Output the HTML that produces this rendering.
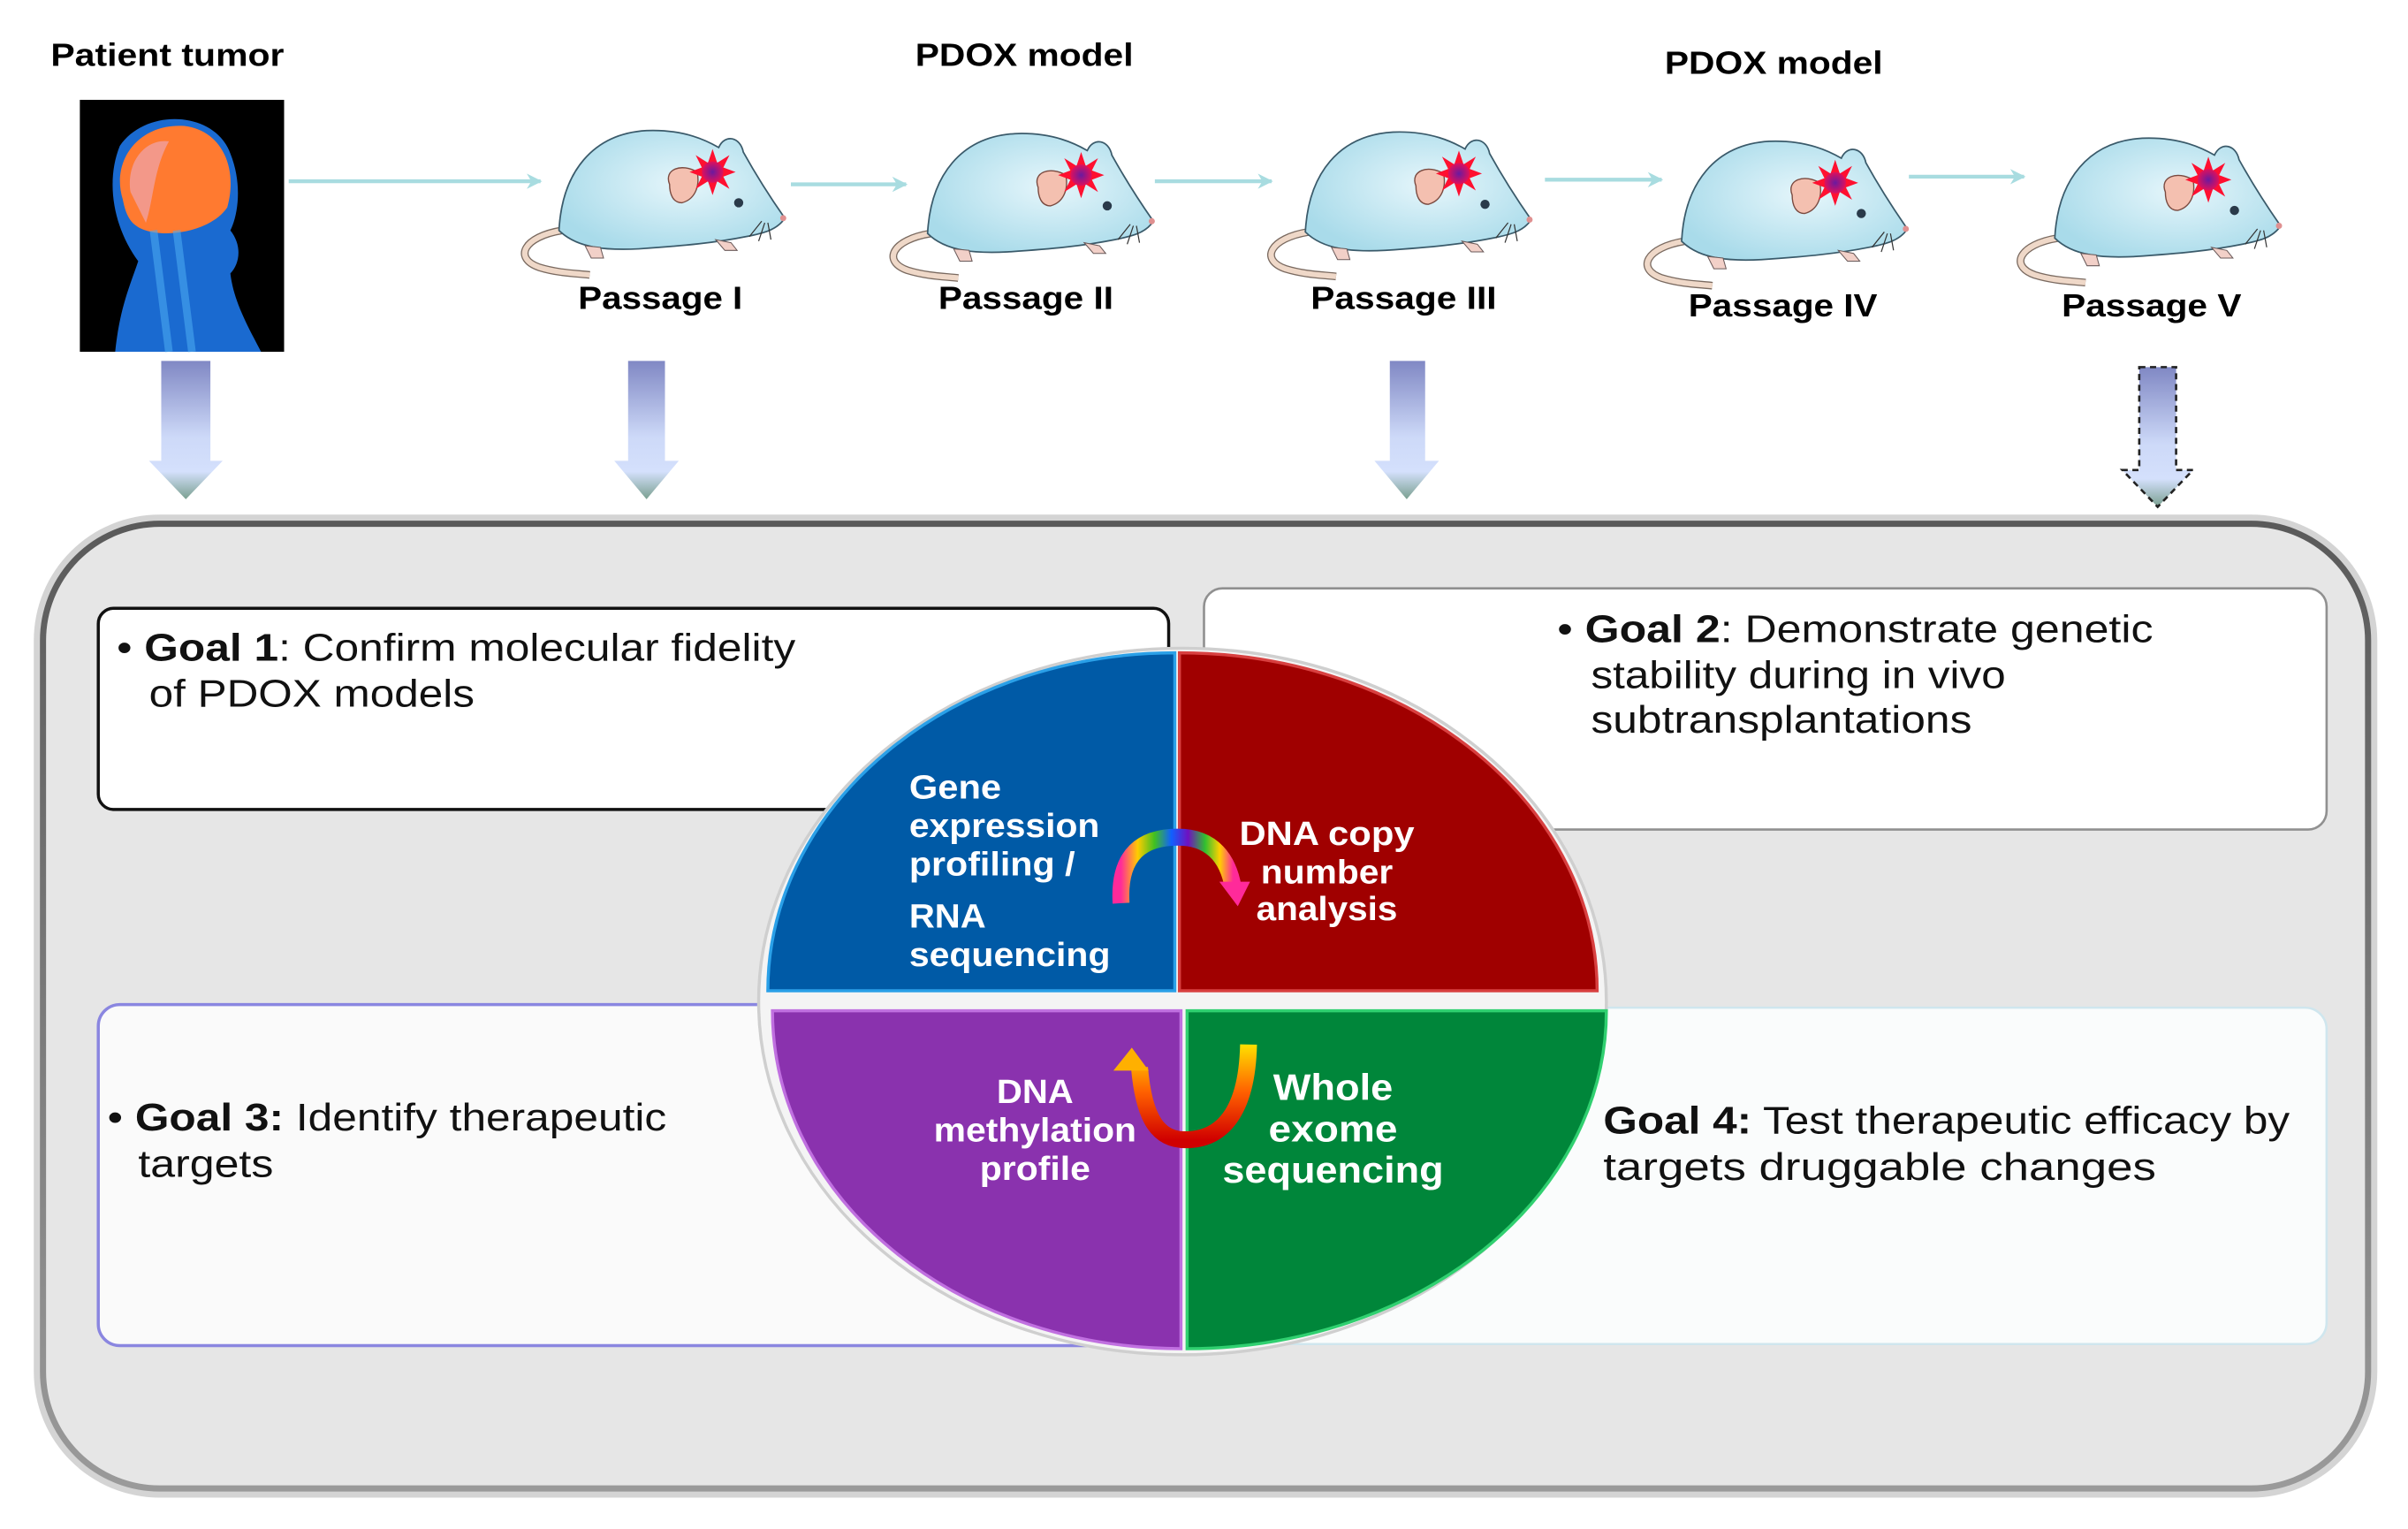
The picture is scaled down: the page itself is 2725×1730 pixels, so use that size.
<!DOCTYPE html>
<html><head><meta charset="utf-8"><style>
html,body{margin:0;padding:0;background:#fff;}
svg{display:block;}
text{font-family:"Liberation Sans",Arial,sans-serif;}
</style></head><body>
<svg width="2725" height="1730" viewBox="0 0 1568 995.4" preserveAspectRatio="none" xmlns="http://www.w3.org/2000/svg">
<defs>
<linearGradient id="dg" x1="0" y1="0" x2="0" y2="1">
<stop offset="0" stop-color="#8088c4"/><stop offset="0.55" stop-color="#cdd9f8"/><stop offset="0.8" stop-color="#d4e0fc"/><stop offset="1" stop-color="#7aa090"/></linearGradient>
<radialGradient id="mb" cx="0.55" cy="0.45" r="0.6"><stop offset="0" stop-color="#e6f6fb"/><stop offset="1" stop-color="#a9dbea"/></radialGradient>
<radialGradient id="st" cx="0.5" cy="0.5" r="0.5"><stop offset="0" stop-color="#6a1aa0"/><stop offset="1" stop-color="#e0105a"/></radialGradient>
<linearGradient id="rb" x1="0" y1="0" x2="1" y2="0">
<stop offset="0" stop-color="#ff2a9a"/><stop offset="0.15" stop-color="#ffcc00"/><stop offset="0.3" stop-color="#40c020"/><stop offset="0.45" stop-color="#1060ff"/><stop offset="0.6" stop-color="#7010c0"/><stop offset="0.75" stop-color="#30c030"/><stop offset="0.88" stop-color="#ffd000"/><stop offset="1" stop-color="#ff2a9a"/></linearGradient>
<linearGradient id="ro" x1="0" y1="0" x2="0" y2="1">
<stop offset="0" stop-color="#ffe000"/><stop offset="0.5" stop-color="#ff6000"/><stop offset="1" stop-color="#d00000"/></linearGradient>
<linearGradient id="brd" x1="0" y1="0" x2="0" y2="1"><stop offset="0" stop-color="#5a5a5a"/><stop offset="1" stop-color="#9a9a9a"/></linearGradient>
<g id="mouse">
<path d="M-60,18 C-85,22 -92,36 -75,42 C-62,46 -50,46 -42,47" fill="none" stroke="#7a6a60" stroke-width="5"/>
<path d="M-60,18 C-85,22 -92,36 -75,42 C-62,46 -50,46 -42,47" fill="none" stroke="#efd8c8" stroke-width="3.5"/>
<path d="M-62,18 C-60,-20 -40,-45 -5,-47 C20,-48 35,-40 42,-36 C46,-45 56,-43 58,-33 C68,-15 78,0 85,10 C80,18 70,20 60,22 C40,26 20,28 -10,30 C-30,31 -50,30 -62,18 Z" fill="url(#mb)" stroke="#3a5a6a" stroke-width="1"/>
<path d="M-45,28 l4,8 l8,0 l-2,-7 Z M40,24 l6,7 l8,0 l-4,-5Z" fill="#f2d0c8" stroke="#6a5a5a" stroke-width="0.6"/>
<path d="M10,-12 C6,-22 18,-26 28,-20 C30,-10 26,-2 18,0 C12,0 10,-6 10,-12Z" fill="#f4c0b0" stroke="#7a4a40" stroke-width="0.8"/>
<circle cx="55" cy="0" r="3" fill="#2a3a4a"/>
<circle cx="84" cy="10" r="2" fill="#e09090"/>
<path d="M70,12 l-8,10 M72,13 l-4,12 M74,13 l2,11" stroke="#333" stroke-width="0.7"/>
<g transform="translate(38,-20)">
<polygon points="0,-15 3,-6 11,-11 7,-3 15,0 7,3 11,11 3,6 0,15 -3,6 -11,11 -7,3 -15,0 -7,-3 -11,-11 -3,-6" fill="#ff1030"/>
<circle r="7" fill="url(#st)"/></g>
</g>
<marker id="ah" viewBox="0 0 10 10" refX="9" refY="5" markerWidth="4" markerHeight="4" orient="auto"><path d="M0,0 L10,5 L0,10 L3,5Z" fill="#a8dce0"/></marker>
</defs>

<text x="33" y="43" font-size="21" font-weight="bold" textLength="152" lengthAdjust="spacingAndGlyphs">Patient tumor</text>
<text x="596" y="43" font-size="21" font-weight="bold" textLength="142" lengthAdjust="spacingAndGlyphs">PDOX model</text>
<text x="1084" y="48" font-size="21" font-weight="bold" textLength="142" lengthAdjust="spacingAndGlyphs">PDOX model</text>

<!-- patient image -->
<rect x="52" y="65" width="133" height="164" fill="#000"/>
<path d="M75,229 C78,200 85,185 90,170 C75,150 68,120 78,95 C95,70 140,72 150,100 C158,120 155,140 150,150 C158,160 156,172 150,178 C152,195 160,210 170,229 Z" fill="#1a6ad0"/>
<path d="M80,130 C72,105 90,80 120,82 C145,85 155,110 148,135 C138,150 110,155 95,150 C85,147 82,140 80,130Z" fill="#ff7a30"/>
<path d="M85,125 C82,105 95,90 110,92 C100,110 100,130 95,145Z" fill="#f0a0a0" opacity="0.8"/>
<path d="M100,150 L110,229 M115,150 L125,229" stroke="#4aa8f0" stroke-width="5" opacity="0.6"/>

<!-- horizontal arrows -->
<g stroke="#a8dce0" stroke-width="2.5" marker-end="url(#ah)">
<line x1="188" y1="118" x2="352" y2="118"/>
<line x1="515" y1="120" x2="590" y2="120"/>
<line x1="752" y1="118" x2="828" y2="118"/>
<line x1="1006" y1="117" x2="1082" y2="117"/>
<line x1="1243" y1="115" x2="1318" y2="115"/>
</g>

<use href="#mouse" transform="translate(426,132)"/>
<use href="#mouse" transform="translate(666,134)"/>
<use href="#mouse" transform="translate(912,133)"/>
<use href="#mouse" transform="translate(1157,139)"/>
<use href="#mouse" transform="translate(1400,137)"/>

<g font-size="21" font-weight="bold" text-anchor="middle">
<text x="430" y="201" textLength="107" lengthAdjust="spacingAndGlyphs">Passage I</text>
<text x="668" y="201" textLength="114" lengthAdjust="spacingAndGlyphs">Passage II</text>
<text x="914" y="201" textLength="121" lengthAdjust="spacingAndGlyphs">Passage III</text>
<text x="1161" y="206" textLength="123" lengthAdjust="spacingAndGlyphs">Passage IV</text>
<text x="1401" y="206" textLength="117" lengthAdjust="spacingAndGlyphs">Passage V</text>
</g>

<!-- down arrows -->
<path d="M105,235 H137 V300 H145 L121,325 L97,300 H105Z" fill="url(#dg)"/>
<path d="M409,235 H433 V300 H442 L421,325 L400,300 H409Z" fill="url(#dg)"/>
<path d="M905,235 H928 V300 H937 L916,325 L895,300 H905Z" fill="url(#dg)"/>
<path d="M1393,239 H1417 V306 H1428 L1405,330 L1382,306 H1393Z" fill="url(#dg)" stroke="#222" stroke-width="1.5" stroke-dasharray="4,3"/>

<!-- container -->
<rect x="22" y="335" width="1526" height="640" rx="82" fill="#d4d4d4"/>
<rect x="28" y="341" width="1514" height="628" rx="76" fill="#e6e6e6" stroke="url(#brd)" stroke-width="4"/>

<!-- goal boxes -->
<rect x="64" y="396" width="697" height="131" rx="10" fill="#fff" stroke="#111" stroke-width="2"/>
<rect x="784" y="383" width="731" height="157" rx="12" fill="#fff" stroke="#909090" stroke-width="1.5"/>
<rect x="64" y="654" width="706" height="222" rx="14" fill="#fafafa" stroke="#8a86e0" stroke-width="2"/>
<rect x="770" y="656" width="745" height="219" rx="14" fill="#fafcfc" stroke="#cfe6ee" stroke-width="1.5"/>

<g font-size="25" fill="#111" lengthAdjust="spacingAndGlyphs">
<text x="76" y="430" textLength="442" lengthAdjust="spacingAndGlyphs">• <tspan font-weight="bold">Goal 1</tspan>: Confirm molecular fidelity</text>
<text x="97" y="460" textLength="212" lengthAdjust="spacingAndGlyphs">of PDOX models</text>
<text x="1014" y="418" textLength="388" lengthAdjust="spacingAndGlyphs">• <tspan font-weight="bold">Goal 2</tspan>: Demonstrate genetic</text>
<text x="1036" y="448" textLength="270" lengthAdjust="spacingAndGlyphs">stability during in vivo</text>
<text x="1036" y="477" textLength="248" lengthAdjust="spacingAndGlyphs">subtransplantations</text>
<text x="70" y="736" textLength="364" lengthAdjust="spacingAndGlyphs">• <tspan font-weight="bold">Goal 3:</tspan> Identify therapeutic</text>
<text x="90" y="766" textLength="88" lengthAdjust="spacingAndGlyphs">targets</text>
<text x="1044" y="738" textLength="447" lengthAdjust="spacingAndGlyphs"><tspan font-weight="bold">Goal 4:</tspan> Test therapeutic efficacy by</text>
<text x="1044" y="768" textLength="360" lengthAdjust="spacingAndGlyphs">targets druggable changes</text>
</g>

<!-- circle -->
<ellipse cx="770" cy="652" rx="276" ry="230" fill="#f4f4f4" stroke="#cfcfcf" stroke-width="2"/>
<path d="M765,645 L500,645 A265,220 0 0 1 765,425 Z" fill="#005aa6" stroke="#2aa0e8" stroke-width="2"/>
<path d="M768,645 L768,425 A272,220 0 0 1 1040,645 Z" fill="#a00000" stroke="#d84040" stroke-width="2"/>
<path d="M769,658 L503,658 A266,220 0 0 0 769,878 Z" fill="#8a32ae" stroke="#c070e0" stroke-width="2"/>
<path d="M773,658 L1046,658 A273,220 0 0 1 773,878 Z" fill="#00863a" stroke="#30d070" stroke-width="2"/>

<!-- rainbow arcs -->
<path d="M730,588 C728,555 745,545 767,545 C790,545 800,560 803,578" fill="none" stroke="url(#rb)" stroke-width="11"/>
<path d="M794,574 L814,574 L806,590Z" fill="#ff2a9a"/>
<path d="M742,695 C745,730 755,742 772,742 C795,742 812,725 813,680" fill="none" stroke="url(#ro)" stroke-width="11"/>
<path d="M725,697 L748,697 L737,682Z" fill="#ffb000"/>

<g font-size="22" font-weight="bold" fill="#fff">
<text x="592" y="520" textLength="60" lengthAdjust="spacingAndGlyphs">Gene</text>
<text x="592" y="545" textLength="124" lengthAdjust="spacingAndGlyphs">expression</text>
<text x="592" y="570" textLength="108" lengthAdjust="spacingAndGlyphs">profiling /</text>
<text x="592" y="604" textLength="50" lengthAdjust="spacingAndGlyphs">RNA</text>
<text x="592" y="629" textLength="131" lengthAdjust="spacingAndGlyphs">sequencing</text>
<g text-anchor="middle">
<text x="864" y="550" textLength="114" lengthAdjust="spacingAndGlyphs">DNA copy</text>
<text x="864" y="575" textLength="86" lengthAdjust="spacingAndGlyphs">number</text>
<text x="864" y="599" textLength="92" lengthAdjust="spacingAndGlyphs">analysis</text>
<text x="674" y="718" textLength="50" lengthAdjust="spacingAndGlyphs">DNA</text>
<text x="674" y="743" textLength="132" lengthAdjust="spacingAndGlyphs">methylation</text>
<text x="674" y="768" textLength="72" lengthAdjust="spacingAndGlyphs">profile</text>
<text x="868" y="716" font-size="24" textLength="78" lengthAdjust="spacingAndGlyphs">Whole</text>
<text x="868" y="743" font-size="24" textLength="84" lengthAdjust="spacingAndGlyphs">exome</text>
<text x="868" y="770" font-size="24" textLength="144" lengthAdjust="spacingAndGlyphs">sequencing</text>
</g></g>
</svg>
</body></html>
